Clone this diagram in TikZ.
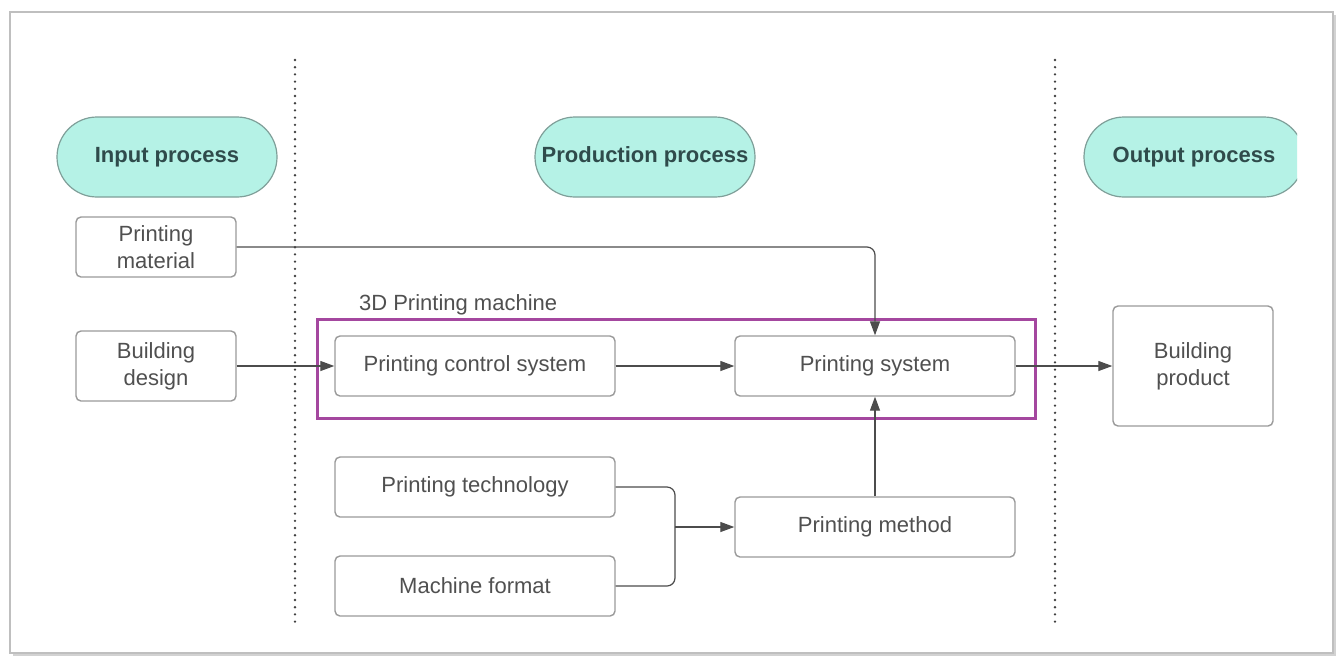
\documentclass[tikz,border=0pt]{standalone}
\usepackage{fontspec}
\setmainfont{Liberation Sans}
\usetikzlibrary{arrows.meta,shadows}

\definecolor{pillfill}{HTML}{B5F2E6}
\definecolor{pillline}{HTML}{7F9F99}
\definecolor{pilltext}{HTML}{2F4B4B}
\definecolor{boxline}{HTML}{9A9A9A}
\definecolor{boxtext}{HTML}{505050}
\definecolor{machine}{HTML}{A4479F}

\tikzset{
  phase/.style={draw=pillline, fill=pillfill, line width=0.6pt,
    rounded corners=20pt, minimum width=110pt, minimum height=40pt,
    text=pilltext, font=\bfseries\fontsize{11}{13}\selectfont},
  stepbox/.style={draw=boxline, line width=0.7pt, rounded corners=2.5pt,
    minimum width=80pt, minimum height=30pt, align=center,
    text=boxtext, font=\fontsize{11}{13.5}\selectfont},
  widebox/.style={stepbox, minimum width=140pt},
  flow/.style={draw=black!70, line width=0.6pt,
    -{Triangle[length=7pt,width=5pt]}},
  divider/.style={black!75, line width=1.3pt, line cap=round,
    dash pattern=on 0pt off 3.6pt}
}

\begin{document}
\begin{tikzpicture}[x=0.5pt, y=-0.5pt]
  \useasboundingbox (0,0) rectangle (1339,660);
  \fill[white] (0,0) rectangle (1339,660);
  \draw[black!25, line width=0.8pt, fill=white,
    drop shadow={shadow xshift=1.5pt, shadow yshift=-1.5pt, opacity=0.35}]
    (10,12) rectangle (1333,653);

  % lanes
  \draw[divider] (295,60) -- (295,622);
  \draw[divider] (1055,60) -- (1055,622);

  % phase headers
  \draw
    (167,157) node[phase] (in){Input process}
    (645,157) node[phase] (prod){Production process};
  \begin{scope}
    \clip (0,0) rectangle (1297,660);
    \draw (1194,157) node[phase] (out){Output process};
  \end{scope}

  % process steps
  \draw
    (156,247) node[stepbox] (mat){Printing\\material}
    (156,366) node[stepbox, minimum height=35pt] (des){Building\\design}
    (475,366) node[widebox] (ctrl){Printing control system}
    (875,366) node[widebox] (sys){Printing system}
    (475,487) node[widebox] (tech){Printing technology}
    (475,586) node[widebox] (fmt){Machine format}
    (875,527) node[widebox] (meth){Printing method}
    (1193,366) node[stepbox, minimum height=60pt] (prodct){Building\\product};

  % machine frame
  \draw[machine, line width=1.5pt] (317,319) rectangle (1035,418);
  \node[anchor=west, text=boxtext, font=\fontsize{11}{13}\selectfont]
    (machinelbl) at (352,305) {3D Printing machine};

  \coordinate (join) at (675,527);
  \begin{scope}[flow]
    \draw[rounded corners=4pt] (mat.east) -| (sys.north);
    \draw (des.east) -- (ctrl.west);
    \draw (ctrl.east) -- (sys.west);
    \draw (sys.east) -- (prodct.west);
    \draw (meth.north) -- (sys.south);
    \draw (join) -- (meth.west);
  \end{scope}
  \begin{scope}[draw=black!70, line width=0.6pt, rounded corners=4pt]
    \draw (tech.east) -| (join);
    \draw (fmt.east) -| (join);
  \end{scope}
\end{tikzpicture}
\end{document}
